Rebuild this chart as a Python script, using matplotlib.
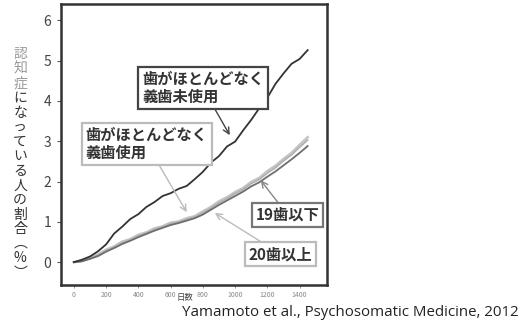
import matplotlib.pyplot as plt

plt.rcParams["font.family"] = ["Noto Sans CJK JP", "DejaVu Sans"]

# %% Data

days = [0, 50, 100, 150, 200, 250, 300, 350, 400, 450, 500, 550, 600, 650, 700,
        750, 800, 850, 900, 950, 1000, 1050, 1100, 1150, 1200, 1250, 1300, 1350, 1400, 1450]

# few teeth, no denture
no_denture = [0, 0.06, 0.14, 0.27, 0.44, 0.71, 0.88, 1.07, 1.19, 1.37, 1.49, 1.64, 1.71, 1.82, 1.89,
              2.06, 2.24, 2.47, 2.63, 2.87, 2.99, 3.27, 3.53, 3.82, 4.08, 4.42, 4.68, 4.92, 5.04, 5.26]
# upper light lines
light_upper = [0, 0.03, 0.11, 0.19, 0.31, 0.39, 0.51, 0.57, 0.68, 0.74, 0.84, 0.89, 0.98, 1.01, 1.09,
               1.14, 1.26, 1.37, 1.51, 1.61, 1.74, 1.84, 1.99, 2.09, 2.26, 2.39, 2.56, 2.71, 2.91, 3.1]
light_lower = [0, 0.02, 0.09, 0.17, 0.28, 0.37, 0.48, 0.55, 0.65, 0.72, 0.81, 0.87, 0.95, 0.99, 1.06,
               1.12, 1.22, 1.34, 1.47, 1.58, 1.70, 1.80, 1.95, 2.05, 2.21, 2.34, 2.51, 2.66, 2.85, 3.03]
# 19 teeth or fewer
mid_line = [0, 0.02, 0.08, 0.15, 0.26, 0.35, 0.45, 0.53, 0.62, 0.70, 0.78, 0.85, 0.92, 0.97, 1.03,
            1.09, 1.18, 1.30, 1.42, 1.53, 1.64, 1.75, 1.88, 1.98, 2.12, 2.25, 2.40, 2.55, 2.71, 2.88]

xticks = [0, 200, 400, 600, 800, 1000, 1200, 1400]
yticks = [0, 1, 2, 3, 4, 5, 6]

# %% Plot

fig = plt.figure(figsize=(5.3, 3.2), dpi=100)
ax = fig.add_axes([0.115, 0.109, 0.502, 0.878])

ax.plot(days, light_upper, color="#c4c4c4", lw=1.8, zorder=3)
ax.plot(days, light_lower, color="#b0b0b0", lw=1.2, zorder=3)
ax.plot(days, mid_line, color="#6e6e6e", lw=1.3, zorder=4)
ax.plot(days, no_denture, color="#333333", lw=1.3, zorder=5)

ax.set_xlim(-80, 1570)
ax.set_ylim(-0.57, 6.4)
ax.set_xticks(xticks)
ax.set_yticks(yticks)
ax.tick_params(axis="x", labelsize=5, colors="#888888", length=2, width=0.6, pad=2)
ax.tick_params(axis="y", labelsize=10, labelcolor="#444444", color="#555555", length=3, width=0.8, pad=4)
for s in ax.spines.values():
    s.set_linewidth(1.8)
    s.set_color("#333333")

# Labels / annotations
boxes = [
    ("歯がほとんどなく\n義歯未使用", (800, 4.32), (967, 3.15), "#444444", "#444444"),
    ("歯がほとんどなく\n義歯使用", (452, 2.93), (700, 1.24), "#bbbbbb", "#bbbbbb"),
    ("19歯以下", (1326, 1.17), (1159, 2.03), "#777777", "#888888"),
    ("20歯以上", (1283, 0.2), (874, 1.22), "#bbbbbb", "#bbbbbb"),
]
for label, xytext, xy, ec, ac in boxes:
    ax.annotate(
        label, xy=xy, xytext=xytext, ha="center", va="center", multialignment="left",
        fontsize=11, fontweight="bold", color="#333333", linespacing=1.15,
        annotation_clip=False, zorder=10,
        bbox=dict(boxstyle="square,pad=0.25", fc="white", ec=ec, lw=1.6),
        arrowprops=dict(arrowstyle="->", color=ac, lw=1.0, shrinkA=0, shrinkB=0),
    )

# vertical y label
ylabel_chars = list("認知症になっている人の割合") + ["︵", "%", "︶"]
y0, step = 0.83, 0.0455
for i, ch in enumerate(ylabel_chars):
    color = "#9a9a9a" if i < 3 else "#333333"
    fig.text(0.038, y0 - i * step, ch, ha="center", va="center", fontsize=10, color=color)

fig.text(0.349, 0.07, "日数", ha="center", va="center", fontsize=6, color="#444444")
fig.text(0.343, 0.025, "Yamamoto et al., Psychosomatic Medicine, 2012", ha="left", va="center",
         fontsize=10.8, color="#222222", family="Open Sans")

fig.savefig("out.png", dpi=100)
